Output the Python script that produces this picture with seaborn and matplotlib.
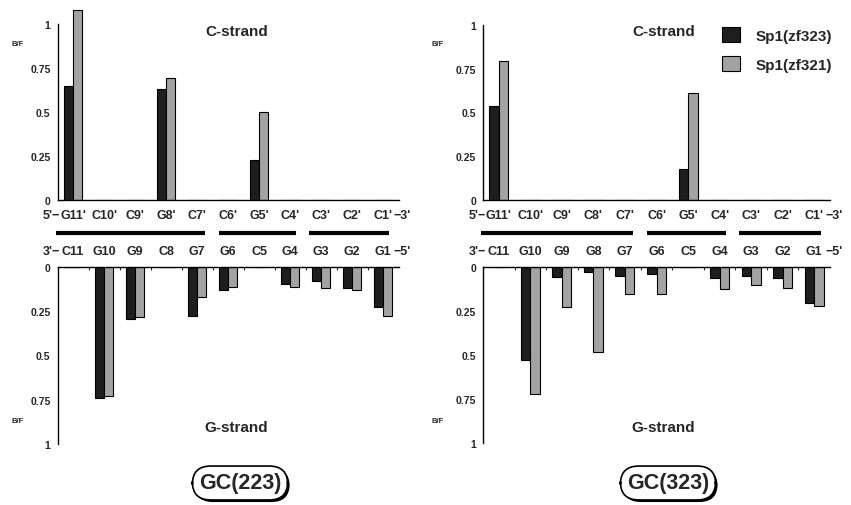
import numpy as np
import pandas as pd
import matplotlib
matplotlib.use("Agg")
import matplotlib.pyplot as plt
import seaborn as sns
from matplotlib.patches import Patch
from matplotlib.transforms import blended_transform_factory
import matplotlib.patheffects as pe

# ---------------- data ----------------
series = ["Sp1(zf323)", "Sp1(zf321)"]

c_labels_223 = ["G11'", "C10'", "C9'", "G8'", "C7'", "C6'", "G5'", "C4'", "C3'", "C2'", "C1'"]
g_labels_223 = ["C11", "G10", "G9", "C8", "G7", "G6", "C5", "G4", "G3", "G2", "G1"]
c_labels_323 = ["G11'", "C10'", "C9'", "C8'", "C7'", "C6'", "G5'", "C4'", "C3'", "C2'", "C1'"]
g_labels_323 = ["C11", "G10", "G9", "G8", "G7", "G6", "C5", "G4", "G3", "G2", "G1"]

gc223_c_zf323 = [0.646, 0, 0, 0.630, 0, 0, 0.225, 0, 0, 0, 0]
gc223_c_zf321 = [1.080, 0, 0, 0.693, 0, 0, 0.498, 0, 0, 0, 0]
gc223_g_zf323 = [0, 0.740, 0.291, 0, 0.278, 0.132, 0, 0.098, 0.081, 0.120, 0.224]
gc223_g_zf321 = [0, 0.727, 0.282, 0, 0.167, 0.113, 0, 0.115, 0.118, 0.130, 0.276]

gc323_c_zf323 = [0.535, 0, 0, 0, 0, 0, 0.177, 0, 0, 0, 0]
gc323_c_zf321 = [0.792, 0, 0, 0, 0, 0, 0.611, 0, 0, 0, 0]
gc323_g_zf323 = [0, 0.529, 0.055, 0.026, 0.051, 0.038, 0, 0.060, 0.051, 0.060, 0.206]
gc323_g_zf321 = [0, 0.724, 0.225, 0.482, 0.151, 0.151, 0, 0.123, 0.104, 0.117, 0.221]

yticks = [0, 0.25, 0.5, 0.75, 1]
ytick_labels = ["0", "0.25", "0.5", "0.75", "1"]

# ---------------- style ----------------
sns.set_style("white")
plt.rcParams["font.family"] = ["Liberation Sans", "DejaVu Sans"]
plt.rcParams["font.weight"] = "bold"

BLACK = "#1e1e1e"
GRAY = "#a3a3a3"
palette = {series[0]: BLACK, series[1]: GRAY}

W, H = 851, 506
fig = plt.figure(figsize=(W / 100, H / 100), dpi=100)
fig.patch.set_facecolor("white")


def px_axes(x0, x1, ytop, ybot):
    return fig.add_axes([x0 / W, 1 - ybot / H, (x1 - x0) / W, (ybot - ytop) / H])


def ftext(x, y, s, **kw):
    return fig.text(x / W, 1 - y / H, s, **kw)


def make_df(labels, a, b):
    return pd.DataFrame({
        "pos": labels * 2,
        "series": [series[0]] * len(labels) + [series[1]] * len(labels),
        "val": list(a) + list(b),
    })


def draw_panel(ax, labels, a, b, top, prefix, suffix):
    df = make_df(labels, a, b)
    sns.barplot(data=df, x="pos", y="val", hue="series", order=labels,
                hue_order=series, palette=palette, width=0.6,
                edgecolor="black", linewidth=0.8, saturation=1,
                legend=False, ax=ax)
    ax.set_xlim(-0.5, 10.5)
    ax.set_xlabel("")
    ax.set_ylabel("")
    ax.set_facecolor("none")
    for s in ax.spines.values():
        s.set_color("black")
        s.set_linewidth(1.0)
    ax.set_yticks(yticks)
    ax.set_yticklabels(ytick_labels, fontsize=7.5, fontweight="bold")
    ax.tick_params(axis="y", direction="in", length=3, width=0.8, pad=5)
    ax.set_xticks(range(len(labels)))
    ax.set_xticklabels([])
    ax.set_xticks(np.arange(0.5, len(labels) - 1, 1.0), minor=True)
    if top:
        ax.set_ylim(0, 1.1)
        ax.spines["top"].set_visible(False)
        ax.spines["right"].set_visible(False)
        ax.spines["left"].set_bounds(0, 1)
        ax.tick_params(axis="x", which="major", length=0)
        ax.tick_params(axis="x", which="minor", direction="in", length=2.5, width=0.8)
        yfrac, off = 0, -15
    else:
        ax.set_ylim(1, 0)
        ax.spines["bottom"].set_visible(False)
        ax.spines["right"].set_visible(False)
        ax.xaxis.set_ticks_position("top")
        ax.tick_params(axis="x", which="major", length=0)
        ax.tick_params(axis="x", which="minor", direction="in", length=2.5, width=0.8)
        yfrac, off = 1, 16
    for i, lab in enumerate(labels):
        ax.annotate(lab, xy=(i, yfrac), xycoords=("data", "axes fraction"),
                    xytext=(0, off), textcoords="offset pixels",
                    ha="center", va="center", fontsize=9, fontweight="bold",
                    annotation_clip=False)
    ax.annotate(prefix, xy=(0, yfrac), xycoords=("data", "axes fraction"),
                xytext=(-13, off), textcoords="offset pixels",
                ha="right", va="center", fontsize=9, fontweight="bold",
                annotation_clip=False)
    ax.annotate(suffix, xy=(len(labels) - 1, yfrac), xycoords=("data", "axes fraction"),
                xytext=(11, off), textcoords="offset pixels",
                ha="left", va="center", fontsize=9, fontweight="bold",
                annotation_clip=False)


# axes (pixel geometry)
ax_lt = px_axes(57.5, 398.5, 201 - 1.1 * 176, 201)
ax_lb = px_axes(57.5, 398.5, 268, 445)
ax_rt = px_axes(483, 830, 201 - 1.1 * 175, 201)
ax_rb = px_axes(483, 830, 268, 444)

draw_panel(ax_lt, c_labels_223, gc223_c_zf323, gc223_c_zf321, True, "5'\u2212", "\u22123'")
draw_panel(ax_lb, g_labels_223, gc223_g_zf323, gc223_g_zf321, False, "3'\u2212", "\u22125'")
draw_panel(ax_rt, c_labels_323, gc323_c_zf323, gc323_c_zf321, True, "5'\u2212", "\u22123'")
draw_panel(ax_rb, g_labels_323, gc323_g_zf323, gc323_g_zf321, False, "3'\u2212", "\u22125'")

# thick strand segments between the two rows of labels
for ax in (ax_lt, ax_rt):
    tr = blended_transform_factory(ax.transData, fig.transFigure)
    ybar = 1 - 234 / H
    for x0, x1 in [(-0.55, 4.25), (4.7, 7.2), (7.6, 10.2)]:
        ax.plot([x0, x1], [ybar, ybar], transform=tr, color="black", lw=3.0,
                solid_capstyle="butt", clip_on=False)

# strand titles and B/F labels
for x in (237, 664):
    ftext(x, 32, "C-strand", ha="center", va="center", fontsize=11, fontweight="bold")
    ftext(x - 1, 428, "G-strand", ha="center", va="center", fontsize=11, fontweight="bold")
for x in (18, 438):
    ftext(x, 45, "B/F", ha="center", va="center", fontsize=5.5, fontweight="bold")
    ftext(x, 422, "B/F", ha="center", va="center", fontsize=5.5, fontweight="bold")

# panel names in rounded boxes
for x, name in ((240, "GC(223)"), (668, "GC(323)")):
    t = ftext(x, 484, name, ha="center", va="center", fontsize=15.5, fontweight="bold",
              bbox=dict(boxstyle="round,pad=0.3,rounding_size=0.85", fc="white",
                        ec="black", lw=1.2))
    t.get_bbox_patch().set_path_effects(
        [pe.withSimplePatchShadow(offset=(1.5, -1.5), shadow_rgbFace="black", alpha=1.0)])

# legend
handles = [Patch(facecolor=BLACK, edgecolor="black", lw=0.8),
           Patch(facecolor=GRAY, edgecolor="black", lw=0.8)]
ax_rt.legend(handles, series, loc="upper left",
             bbox_to_anchor=(722 / W, 1 - 28 / H), bbox_transform=fig.transFigure,
             frameon=False, handlelength=1.18, handleheight=1.18,
             handletextpad=1.0, labelspacing=0.85, borderpad=0, borderaxespad=0,
             prop={"weight": "bold", "size": 11})

fig.savefig("out.png", dpi=100, facecolor="white")
